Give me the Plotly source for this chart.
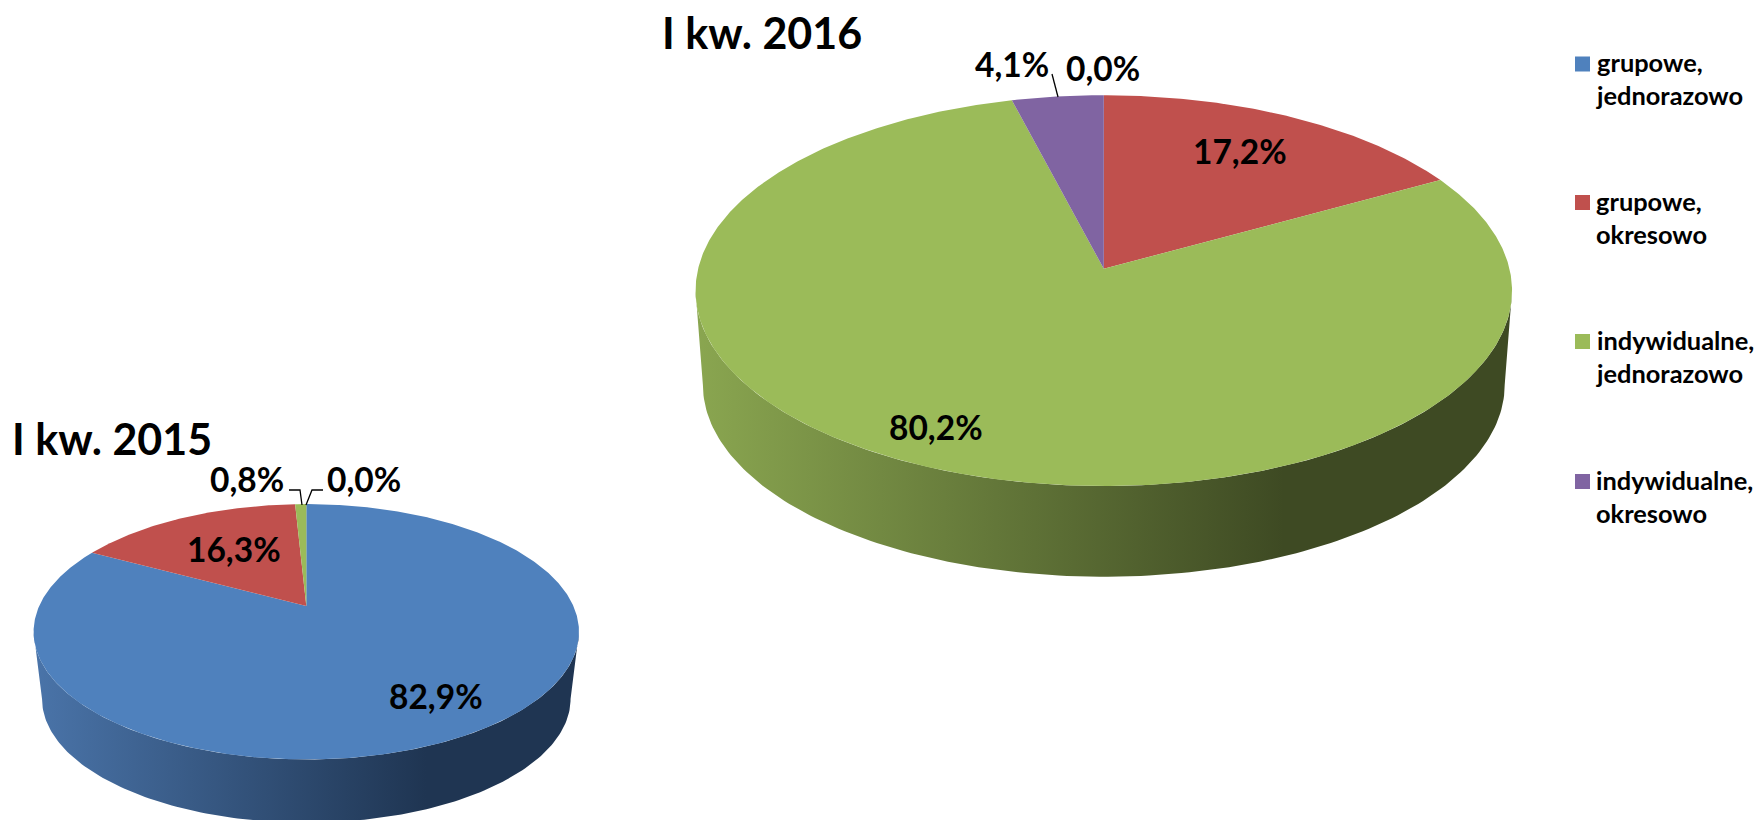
import numpy as np
import plotly.graph_objects as go

# ---- data ----
categories = ["grupowe,<br>jednorazowo", "grupowe,<br>okresowo",
              "indywidualne,<br>jednorazowo", "indywidualne,<br>okresowo"]
values_2015 = [82.9, 16.3, 0.8, 0.0]
values_2016 = [0.0, 17.2, 80.2, 4.1]
title_2015 = "I kw. 2015"
title_2016 = "I kw. 2016"
colors = ["#4F81BD", "#C0504D", "#9BBB59", "#8064A2"]
side_light = ["#4A74A9", "#AD4845", "#8AA650", "#735A92"]
side_dark = ["#1F3552", "#4F2120", "#3E4A23", "#332842"]

# ---- layout of the two perspective pies (page pixels) ----
W, H = 1756, 820
PIE_2015 = dict(cx=306.3, cy=606.0, d=267.1, A=122.5, c=0.2018, dy=68.0, s=0.969)
PIE_2016 = dict(cx=1103.8, cy=268.8, d=405.7, A=193.0, c=0.1117, dy=94.6, s=0.982)
FONT = "Lato"


def project(p, theta, depth=False):
    """theta: radians clockwise from 12 o'clock -> page position."""
    u, v = np.sin(theta), np.cos(theta)
    den = 1 + p["c"] * v
    x, y = p["d"] * u / den, -p["A"] * v / den
    if depth:
        return p["cx"] + p["s"] * x, p["cy"] + p["dy"] + p["s"] * y
    return p["cx"] + x, p["cy"] + y


def add_pie(fig, p, values):
    total = sum(values)
    edges = np.concatenate([[0], np.cumsum(values)]) / total * 2 * np.pi
    # angles of left / right extremes of the visible front edge
    th_r = np.arccos(-p["c"])
    th_l = 2 * np.pi - th_r
    left = project(p, th_l)[0]
    right = project(p, th_r)[0]
    for i in range(len(values)):
        a0, a1 = max(edges[i], th_r), min(edges[i + 1], th_l)
        if a1 > a0:
            t = np.linspace(a0, a1, 160)
            xt, yt = project(p, t)
            xb, yb = project(p, t, depth=True)
            fig.add_trace(go.Scatter(
                x=np.concatenate([xt, xb[::-1]]), y=np.concatenate([yt, yb[::-1]]),
                mode="lines", line=dict(width=0), fill="toself", hoverinfo="skip",
                fillgradient=dict(type="horizontal", start=left, stop=right,
                                  colorscale=[[0, side_light[i]], [0.72, side_dark[i]], [1, side_dark[i]]]),
                showlegend=False))
    for i in range(len(values)):
        if values[i] <= 0:
            continue
        t = np.linspace(edges[i], edges[i + 1], max(4, int(values[i] * 8)))
        xt, yt = project(p, t)
        fig.add_trace(go.Scatter(
            x=np.concatenate([[p["cx"]], xt, [p["cx"]]]),
            y=np.concatenate([[p["cy"]], yt, [p["cy"]]]),
            mode="lines", line=dict(width=0), fill="toself", fillcolor=colors[i],
            name=categories[i].replace("<br>", " "), showlegend=False))


def pct(v):
    return f"{v:.1f}%".replace(".", ",")


fig = go.Figure()
add_pie(fig, PIE_2015, values_2015)
add_pie(fig, PIE_2016, values_2016)

# leader lines
for xs, ys in [([289, 300, 302], [490, 490, 505]),
               ([323, 312, 306], [490, 490, 505]),
               ([1052, 1058], [74, 97])]:
    fig.add_trace(go.Scatter(x=xs, y=ys, mode="lines", line=dict(color="black", width=1.3),
                             hoverinfo="skip", showlegend=False))

# legend
legend_y = [64, 202.5, 341.5, 481.5]
fig.add_trace(go.Scatter(x=[1582.5] * 4, y=legend_y, mode="markers",
                         marker=dict(symbol="square", size=15, color=colors, line=dict(width=0)),
                         hoverinfo="skip", showlegend=False))

ann = []


def note(x, y, text, size, anchor="center"):
    ann.append(dict(x=x, y=y, xref="x", yref="y", text=text, showarrow=False, xanchor=anchor,
                    yanchor="middle", align="left",
                    font=dict(family=FONT, size=size, color="black", weight="bold")))


note(762, 32, title_2016, 43)
note(112, 438, title_2015, 43)
for xy, v in zip([(247, 479), (234, 549), (436, 696), (364, 479)],
                 [values_2015[2], values_2015[1], values_2015[0], values_2015[3]]):
    note(xy[0], xy[1], pct(v), 33.5)
for xy, v in zip([(1012, 64), (1240, 151), (936, 427), (1103, 68)],
                 [values_2016[3], values_2016[1], values_2016[2], values_2016[0]]):
    note(xy[0], xy[1], pct(v), 33.5)
for y, c in zip(legend_y, categories):
    note(1594, y + 14.5, c, 25.4, anchor="left")

fig.update_layout(
    width=W, height=H, margin=dict(l=0, r=0, t=0, b=0), paper_bgcolor="white", plot_bgcolor="white",
    xaxis=dict(range=[0, W], visible=False, fixedrange=True),
    yaxis=dict(range=[H, 0], visible=False, fixedrange=True),
    annotations=ann, showlegend=False)

fig.write_html("out.html", config={"displayModeBar": False},
               post_script="document.body.style.margin='0';document.body.style.overflow='hidden';")
